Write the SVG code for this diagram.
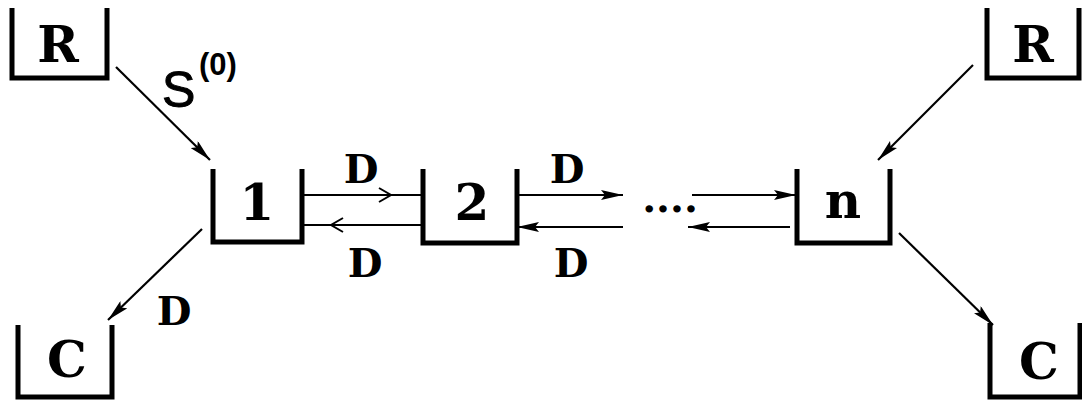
<svg xmlns="http://www.w3.org/2000/svg" width="1082" height="403" viewBox="0 0 1082 403">
<style>
.box{fill:none;stroke:#000;stroke-width:5;stroke-linecap:butt;stroke-linejoin:miter}
.lbl{font-family:"DejaVu Serif","Liberation Serif",serif;font-weight:bold;font-size:50px;fill:#000;text-anchor:middle}
.dl{font-family:"DejaVu Serif","Liberation Serif",serif;font-weight:bold;font-size:40px;fill:#000;text-anchor:middle}
.ar{fill:none;stroke:#000;stroke-width:2.2}
</style>
<defs>
<marker id="fa" viewBox="0 0 22 10" refX="22" refY="5" markerWidth="22" markerHeight="10" markerUnits="userSpaceOnUse" orient="auto">
<path d="M0,0 L22,5 L0,10 L4,5 Z" fill="#000"/>
</marker>
</defs>
<g id="R1"><path class="box" d="M12,8 V78 H107 V8"/><text class="lbl" x="58" y="62">R</text></g>
<g id="R2"><path class="box" d="M987,8 V78 H1079 V8"/><text class="lbl" x="1033" y="62">R</text></g>
<g id="N1"><path class="box" d="M213,169 V242 H302 V169"/><text class="lbl" x="257" y="220">1</text></g>
<g id="N2"><path class="box" d="M423,169 V243 H517 V169"/><text class="lbl" x="472" y="220">2</text></g>
<g id="Nn"><path class="box" d="M797,169 V243 H890 V169"/><text class="lbl" x="843" y="218">n</text></g>
<g id="C1"><path class="box" d="M18,325 V397 H112 V325"/><text class="lbl" x="67" y="377">C</text></g>
<g id="C2"><path class="box" d="M990,323 V397 H1080 V323"/><text class="lbl" x="1039" y="379">C</text></g>
<g id="connectors">
<line class="ar" x1="116" y1="67" x2="210" y2="160" marker-end="url(#fa)"/>
<line class="ar" x1="973" y1="65" x2="878" y2="160" marker-end="url(#fa)"/>
<line class="ar" x1="202" y1="229" x2="108" y2="320" marker-end="url(#fa)"/>
<line class="ar" x1="899" y1="233" x2="993" y2="325" marker-end="url(#fa)"/>
<line class="ar" x1="302" y1="195" x2="423" y2="195"/>
<path d="M379,188 L391,195 L379,202" fill="none" stroke="#000" stroke-width="2"/>
<line class="ar" x1="423" y1="225" x2="302" y2="225"/>
<path d="M343,218 L331,225 L343,232" fill="none" stroke="#000" stroke-width="2"/>
<line class="ar" x1="517" y1="195" x2="623" y2="195" marker-end="url(#fa)"/>
<line class="ar" x1="623" y1="227" x2="517" y2="227" marker-end="url(#fa)"/>
<line class="ar" x1="692" y1="195" x2="796" y2="195" marker-end="url(#fa)"/>
<line class="ar" x1="790" y1="227" x2="688" y2="227" marker-end="url(#fa)"/>
</g>
<g id="labels">
<text x="162" y="107" font-family="'Liberation Sans',Arial,sans-serif" font-size="50" fill="#000" stroke="#000" stroke-width="1">S</text>
<text x="199" y="75" font-family="'Liberation Sans',Arial,sans-serif" font-size="31" font-weight="bold" fill="#000">(0)</text>
<text class="dl" x="361" y="183">D</text>
<text class="dl" x="365" y="277">D</text>
<text class="dl" x="567" y="183">D</text>
<text class="dl" x="571" y="277">D</text>
<text class="dl" x="174" y="325">D</text>
<text x="670" y="212" font-family="'DejaVu Serif',serif" font-weight="bold" font-size="40" fill="#000" text-anchor="middle">....</text>
</g>
</svg>
